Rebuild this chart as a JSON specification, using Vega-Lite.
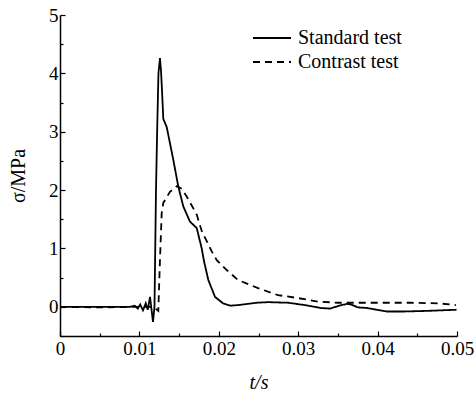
{
  "$schema": "https://vega.github.io/schema/vega-lite/v6.json",
  "width": 397,
  "height": 321,
  "autosize": {"type": "none"},
  "padding": {"left": 60, "top": 15, "right": 19, "bottom": 58},
  "background": "white",
  "config": {
    "view": {"stroke": null},
    "font": "Liberation Serif",
    "axis": {"domainColor": "black", "domainWidth": 1.5, "tickColor": "black", "tickWidth": 1.2, "grid": false, "labelColor": "black", "titleColor": "black", "labelFont": "Liberation Serif", "labelFontSize": 19, "titleFont": "Liberation Serif", "titleFontSize": 20, "titleFontWeight": "normal"}
  },
  "data": {"values": [
    {"t": 0, "s": 0, "series": "Standard test"},
    {"t": 0.005, "s": 0, "series": "Standard test"},
    {"t": 0.0088, "s": 0.0, "series": "Standard test"},
    {"t": 0.0094, "s": 0.02, "series": "Standard test"},
    {"t": 0.0098, "s": -0.03, "series": "Standard test"},
    {"t": 0.0101, "s": 0.04, "series": "Standard test"},
    {"t": 0.01045, "s": -0.06, "series": "Standard test"},
    {"t": 0.0108, "s": 0.06, "series": "Standard test"},
    {"t": 0.01105, "s": -0.05, "series": "Standard test"},
    {"t": 0.01134, "s": 0.17, "series": "Standard test"},
    {"t": 0.01171, "s": -0.26, "series": "Standard test"},
    {"t": 0.0119, "s": 0.0, "series": "Standard test"},
    {"t": 0.01209, "s": 2.0, "series": "Standard test"},
    {"t": 0.01225, "s": 3.1, "series": "Standard test"},
    {"t": 0.0124, "s": 4.0, "series": "Standard test"},
    {"t": 0.01259, "s": 4.26, "series": "Standard test"},
    {"t": 0.01272, "s": 4.05, "series": "Standard test"},
    {"t": 0.01285, "s": 3.7, "series": "Standard test"},
    {"t": 0.01301, "s": 3.22, "series": "Standard test"},
    {"t": 0.01344, "s": 3.08, "series": "Standard test"},
    {"t": 0.01427, "s": 2.52, "series": "Standard test"},
    {"t": 0.0149, "s": 2.06, "series": "Standard test"},
    {"t": 0.01553, "s": 1.72, "series": "Standard test"},
    {"t": 0.01637, "s": 1.46, "series": "Standard test"},
    {"t": 0.01722, "s": 1.35, "series": "Standard test"},
    {"t": 0.01785, "s": 1.0, "series": "Standard test"},
    {"t": 0.01814, "s": 0.78, "series": "Standard test"},
    {"t": 0.01868, "s": 0.46, "series": "Standard test"},
    {"t": 0.01952, "s": 0.17, "series": "Standard test"},
    {"t": 0.02053, "s": 0.06, "series": "Standard test"},
    {"t": 0.02141, "s": 0.02, "series": "Standard test"},
    {"t": 0.0225, "s": 0.03, "series": "Standard test"},
    {"t": 0.02477, "s": 0.07, "series": "Standard test"},
    {"t": 0.0262, "s": 0.08, "series": "Standard test"},
    {"t": 0.02872, "s": 0.07, "series": "Standard test"},
    {"t": 0.03082, "s": 0.03, "series": "Standard test"},
    {"t": 0.03287, "s": -0.02, "series": "Standard test"},
    {"t": 0.034, "s": -0.03, "series": "Standard test"},
    {"t": 0.0352, "s": 0.02, "series": "Standard test"},
    {"t": 0.03611, "s": 0.05, "series": "Standard test"},
    {"t": 0.03665, "s": 0.04, "series": "Standard test"},
    {"t": 0.03753, "s": -0.01, "series": "Standard test"},
    {"t": 0.03863, "s": -0.02, "series": "Standard test"},
    {"t": 0.04115, "s": -0.08, "series": "Standard test"},
    {"t": 0.04341, "s": -0.08, "series": "Standard test"},
    {"t": 0.04618, "s": -0.07, "series": "Standard test"},
    {"t": 0.04994, "s": -0.05, "series": "Standard test"},
    {"t": 0, "s": 0, "series": "Contrast test"},
    {"t": 0.005, "s": -0.01, "series": "Contrast test"},
    {"t": 0.0088, "s": 0, "series": "Contrast test"},
    {"t": 0.01134, "s": 0.0, "series": "Contrast test"},
    {"t": 0.01209, "s": -0.04, "series": "Contrast test"},
    {"t": 0.01238, "s": -0.07, "series": "Contrast test"},
    {"t": 0.01259, "s": 0.8, "series": "Contrast test"},
    {"t": 0.01281, "s": 1.61, "series": "Contrast test"},
    {"t": 0.01301, "s": 1.78, "series": "Contrast test"},
    {"t": 0.01385, "s": 1.97, "series": "Contrast test"},
    {"t": 0.01474, "s": 2.07, "series": "Contrast test"},
    {"t": 0.01535, "s": 2.02, "series": "Contrast test"},
    {"t": 0.01596, "s": 1.89, "series": "Contrast test"},
    {"t": 0.01722, "s": 1.58, "series": "Contrast test"},
    {"t": 0.01785, "s": 1.3, "series": "Contrast test"},
    {"t": 0.01911, "s": 0.95, "series": "Contrast test"},
    {"t": 0.01974, "s": 0.8, "series": "Contrast test"},
    {"t": 0.021, "s": 0.63, "series": "Contrast test"},
    {"t": 0.02242, "s": 0.46, "series": "Contrast test"},
    {"t": 0.02494, "s": 0.32, "series": "Contrast test"},
    {"t": 0.02746, "s": 0.2, "series": "Contrast test"},
    {"t": 0.02997, "s": 0.15, "series": "Contrast test"},
    {"t": 0.03249, "s": 0.09, "series": "Contrast test"},
    {"t": 0.03501, "s": 0.07, "series": "Contrast test"},
    {"t": 0.03917, "s": 0.07, "series": "Contrast test"},
    {"t": 0.04421, "s": 0.07, "series": "Contrast test"},
    {"t": 0.04761, "s": 0.06, "series": "Contrast test"},
    {"t": 0.04987, "s": 0.03, "series": "Contrast test"}
  ]},
  "resolve": {"axis": {"x": "independent", "y": "independent"}},
  "layer": [
    {
      "mark": {"type": "line", "color": "black", "strokeWidth": 1.8, "clip": true},
      "encoding": {
        "x": {"field": "t", "type": "quantitative", "scale": {"domain": [0, 0.05], "nice": false},
          "axis": {"orient": "bottom", "values": [0, 0.01, 0.02, 0.03, 0.04, 0.05], "format": ".2~f", "tickSize": -5, "labelPadding": 8, "labelFont": "Liberation Serif", "labelFontSize": 19, "title": "t/s", "titlePadding": 14, "titleFontStyle": "italic", "labelFlush": false}},
        "y": {"field": "s", "type": "quantitative", "scale": {"domain": [-0.5, 5], "nice": false, "zero": false},
          "axis": {"orient": "left", "values": [0, 1, 2, 3, 4, 5], "format": "d", "tickSize": -5, "labelPadding": 7, "labelFont": "Liberation Serif", "labelFontSize": 19, "title": "σ/MPa", "titlePadding": 20}},
        "strokeDash": {"field": "series", "type": "nominal",
          "scale": {"domain": ["Standard test", "Contrast test"], "range": [[1, 0], [7, 5]]},
          "legend": {"title": null, "orient": "none", "legendX": 192, "legendY": 12, "symbolType": "stroke", "symbolSize": 1444, "symbolStrokeWidth": 1.8, "symbolStrokeColor": "black", "labelFont": "Liberation Serif", "labelFontSize": 20, "labelColor": "black", "labelOffset": 6, "rowPadding": 2, "clipHeight": 22, "padding": 0}}
      }
    },
    {
      "mark": {"type": "line", "opacity": 0},
      "encoding": {
        "x": {"field": "t", "type": "quantitative", "scale": {"domain": [0, 0.05], "nice": false},
          "axis": {"orient": "bottom", "values": [0.005, 0.015, 0.025, 0.035, 0.045], "labels": false, "domain": false, "tickSize": -3, "title": null}},
        "y": {"field": "s", "type": "quantitative", "scale": {"domain": [-0.5, 5], "nice": false, "zero": false},
          "axis": {"orient": "left", "values": [-0.5, 0.5, 1.5, 2.5, 3.5, 4.5], "labels": false, "domain": false, "tickSize": -3, "title": null}}
      }
    }
  ]
}
